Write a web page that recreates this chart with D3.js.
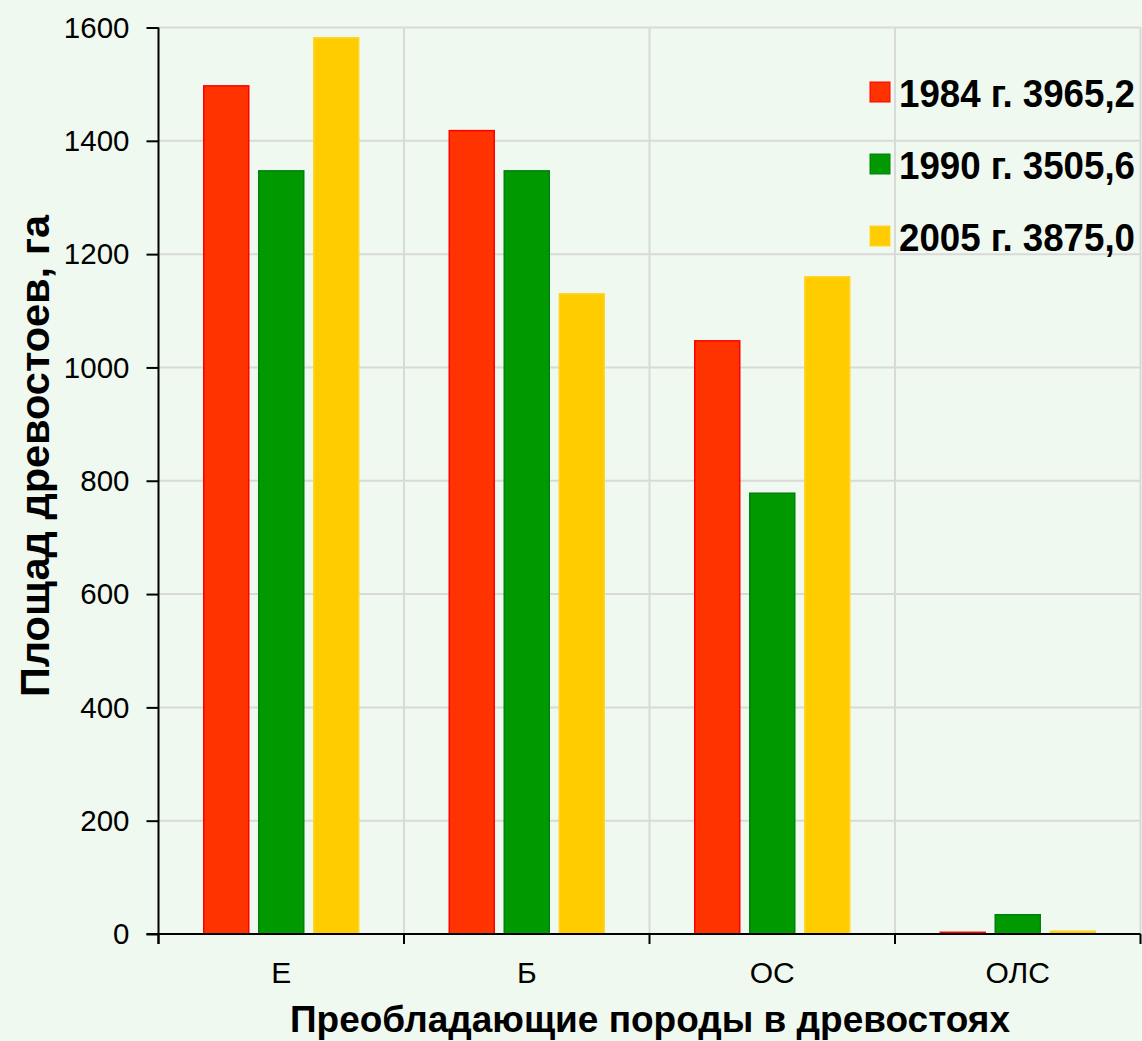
<!DOCTYPE html>
<html>
<head>
<meta charset="utf-8">
<script src="https://cdn.jsdelivr.net/npm/d3@7"></script>
<style>
  html, body { margin: 0; padding: 0; background: #F0F9EF; }
  svg { display: block; }
</style>
</head>
<body>
<svg id="chart" width="1142" height="1041"></svg>
<script>
const categories = ["Е", "Б", "ОС", "ОЛС"];
const seriesNames = ["1984 г. 3965,2", "1990 г. 3505,6", "2005 г. 3875,0"];
const values1984 = [1497, 1418, 1047, 3];
const values1990 = [1347, 1347, 778, 34];
const values2005 = [1582, 1130, 1160, 5];
const yTicks = [0, 200, 400, 600, 800, 1000, 1200, 1400, 1600];
const fills = ["#FF3300", "#009900", "#FFCC00"];
const strokes = ["#FF0000", "#00800F", "#FFD52B"];

const seriesValues = [values1984, values1990, values2005];

(function () {
const svg = d3.select("#chart");
const W = 1142, H = 1041;
svg.append("rect").attr("width", W).attr("height", H).attr("fill", "#F0F9EF");

const pLeft = 158.5, pRight = 1140.5, pTop = 27.5, pBottom = 934;

const x = d3.scaleBand().domain(categories).range([pLeft, pRight]).paddingInner(0).paddingOuter(0);
const x1 = d3.scaleBand().domain(seriesNames).range([45.25, 200.25]).paddingInner(10 / 55).paddingOuter(0);
const y = d3.scaleLinear().domain([0, 1600]).range([pBottom, pTop]);

// horizontal gridlines
svg.append("g").selectAll("line").data(yTicks.filter(d => d > 0)).join("line")
  .attr("x1", pLeft).attr("x2", pRight)
  .attr("y1", d => y(d)).attr("y2", d => y(d))
  .attr("stroke", "#D9D9D9").attr("stroke-width", 2);

// vertical gridlines at category boundaries
const boundaries = categories.map(c => x(c)).concat([x.range()[1]]);
svg.append("g").selectAll("line").data(boundaries.slice(1)).join("line")
  .attr("x1", d => d).attr("x2", d => d)
  .attr("y1", pTop).attr("y2", pBottom)
  .attr("stroke", "#D9D9D9").attr("stroke-width", 2);

// bars
const rows = [];
categories.forEach((c, i) => {
  seriesNames.forEach((s, j) => rows.push({c, s, j, v: seriesValues[j][i]}));
});
svg.append("g").selectAll("rect").data(rows).join("rect")
  .attr("x", d => x(d.c) + x1(d.s))
  .attr("width", x1.bandwidth())
  .attr("y", d => y(d.v))
  .attr("height", d => y(0) - y(d.v))
  .attr("fill", d => fills[d.j])
  .attr("stroke", d => strokes[d.j])
  .attr("stroke-width", 1.5);

// y axis
const yAxis = d3.axisLeft(y).tickValues(yTicks).tickSize(12).tickPadding(17).tickFormat(d3.format("d"));
const gy = svg.append("g").attr("transform", `translate(${pLeft},0)`).call(yAxis);
gy.select(".domain").attr("stroke", "#000").attr("stroke-width", 2).attr("fill", "none")
  .attr("d", `M0,${pTop}V${pBottom + 10}`);
gy.selectAll(".tick line").attr("stroke", "#000").attr("stroke-width", 2);
gy.selectAll(".tick text").attr("font-family", "Liberation Sans, Arial, sans-serif")
  .attr("font-size", 29.5).attr("fill", "#000").attr("dy", "0.33em");

// x axis
const gx = svg.append("g").attr("transform", `translate(0,${pBottom})`);
gx.append("line").attr("x1", pLeft - 12).attr("x2", pRight).attr("y1", 0).attr("y2", 0)
  .attr("stroke", "#000").attr("stroke-width", 2);
gx.selectAll("line.tk").data(boundaries).join("line").attr("class", "tk")
  .attr("x1", d => d).attr("x2", d => d).attr("y1", 0).attr("y2", 10)
  .attr("stroke", "#000").attr("stroke-width", 2);
const xAxis = d3.axisBottom(x).tickSize(0).tickPadding(0);
const gxl = svg.append("g").attr("transform", `translate(0,${pBottom})`).call(xAxis);
gxl.select(".domain").remove();
gxl.selectAll(".tick text").attr("font-family", "Liberation Sans, Arial, sans-serif")
  .attr("font-size", 30).attr("fill", "#000").attr("dy", null).attr("y", 49);

// axis titles
svg.append("text")
  .attr("x", 650).attr("y", 1032)
  .attr("text-anchor", "middle")
  .attr("font-family", "Liberation Sans, Arial, sans-serif")
  .attr("font-weight", "bold").attr("font-size", 36)
  .attr("textLength", 720).attr("lengthAdjust", "spacingAndGlyphs")
  .text("Преобладающие породы в древостоях");

svg.append("text")
  .attr("transform", "translate(49,456) rotate(-90)")
  .attr("text-anchor", "middle")
  .attr("font-family", "Liberation Sans, Arial, sans-serif")
  .attr("font-weight", "bold").attr("font-size", 40)
  .attr("textLength", 482).attr("lengthAdjust", "spacingAndGlyphs")
  .text("Площад древостоев, га");

// legend
const legend = svg.append("g");
const lg = legend.selectAll("g").data(seriesNames).join("g")
  .attr("transform", (d, i) => `translate(870,${92 + i * 72})`);
lg.append("rect").attr("x", 0).attr("y", -10).attr("width", 20).attr("height", 20)
  .attr("fill", (d, i) => fills[i]).attr("stroke", (d, i) => strokes[i]).attr("stroke-width", 1);
lg.append("text").attr("x", 29).attr("y", 14.5)
  .attr("font-family", "Liberation Sans, Arial, sans-serif")
  .attr("font-weight", "bold").attr("font-size", 38)
  .attr("textLength", 236).attr("lengthAdjust", "spacingAndGlyphs")
  .text(d => d);
})();
</script>
</body>
</html>
